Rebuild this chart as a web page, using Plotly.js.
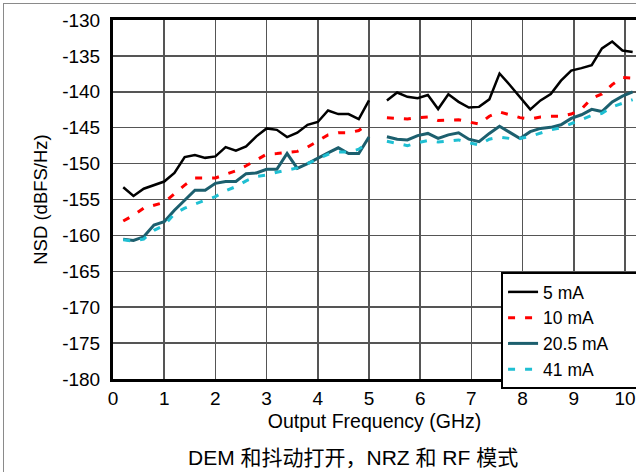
<!DOCTYPE html>
<html>
<head>
<meta charset="utf-8">
<script src="https://cdn.plot.ly/plotly-3.0.1.min.js"></script>
<style>
  html, body { margin: 0; padding: 0; background: #fff; }
  #wrap { position: relative; width: 636px; height: 472px; overflow: hidden; }
  #chart { width: 636px; height: 472px; }
  #frame { position: absolute; left: 3px; top: 3px; width: 700px; height: 500px;
           border-left: 1.5px solid #8a8a8a; border-top: 1.5px solid #8a8a8a; pointer-events: none; }
</style>
</head>
<body>
<div id="wrap"><div id="chart"></div><div id="frame"></div></div>
<script>
// Output frequency (GHz), two measurement bands
const freqLow = [0.2,0.4,0.6,0.8,1.0,1.2,1.4,1.6,1.8,2.0,2.2,2.4,2.6,2.8,3.0,3.2,3.4,3.6,3.8,4.0,4.2,4.4,4.6,4.8,5.0];
const freqHigh = [5.35,5.55,5.75,5.95,6.15,6.35,6.55,6.75,6.95,7.15,7.35,7.55,7.75,7.95,8.15,8.35,8.55,8.75,8.95,9.15,9.35,9.55,9.75,9.95,10.15];

// NSD (dBFS/Hz)
const nsd5Low = [-153.3,-154.5,-153.5,-153.0,-152.5,-151.3,-149.1,-148.8,-149.2,-149.0,-147.7,-148.2,-147.6,-146.2,-145.1,-145.3,-146.3,-145.7,-144.6,-144.2,-142.6,-143.1,-143.1,-143.8,-141.2];
const nsd5High = [-141.2,-140.1,-140.7,-140.9,-140.45,-142.4,-140.35,-141.4,-142.2,-142.1,-141.05,-137.45,-139.05,-140.7,-142.45,-141.2,-140.3,-138.45,-137.05,-136.7,-136.3,-133.95,-133.0,-134.25,-134.45];

const nsd10Low = [-158.0,-157.2,-156.2,-155.8,-155.4,-154.2,-153.0,-152.0,-152.0,-152.0,-151.5,-151.0,-150.3,-149.5,-148.7,-148.6,-148.4,-148.3,-147.7,-146.9,-146.0,-145.7,-145.7,-145.4,-144.4];
const nsd10High = [-143.6,-143.7,-143.8,-143.6,-143.5,-144.0,-143.9,-143.9,-144.2,-144.5,-143.4,-142.8,-143.2,-143.6,-143.8,-143.5,-143.4,-143.4,-143.1,-142.4,-140.9,-140.3,-139.0,-138.0,-138.1];

const nsd205Low = [-160.55,-160.7,-160.2,-158.55,-158.1,-156.5,-155.1,-153.7,-153.7,-152.75,-152.5,-152.5,-151.4,-151.3,-150.8,-150.8,-148.6,-150.65,-150.0,-149.2,-148.5,-147.8,-148.6,-148.6,-146.3];
const nsd205High = [-146.25,-146.6,-146.7,-146.1,-145.8,-146.5,-146.0,-145.7,-146.6,-146.95,-145.8,-144.8,-145.65,-146.5,-145.55,-145.1,-144.95,-144.6,-143.7,-143.2,-142.45,-142.75,-141.4,-140.6,-140.0];

const nsd41Low = [-160.6,-160.8,-160.5,-159.3,-158.6,-157.0,-156.2,-155.6,-155.1,-154.6,-153.8,-153.2,-152.4,-151.8,-151.6,-151.2,-150.9,-150.6,-150.0,-149.4,-148.7,-148.4,-148.4,-148.0,-147.0];
const nsd41High = [-146.9,-147.2,-147.5,-147.1,-146.8,-147.0,-146.9,-146.7,-147.1,-147.4,-146.6,-146.3,-146.5,-146.5,-146.2,-145.7,-145.3,-145.0,-144.4,-143.8,-143.3,-143.0,-142.1,-141.6,-141.1];

const seriesNames = ['5 mA','10 mA','20.5 mA','41 mA'];
const xTicks = [0,1,2,3,4,5,6,7,8,9,10];
const yTicks = [-180,-175,-170,-165,-160,-155,-150,-145,-140,-135,-130];
const yTickText = ['-180','-175','-170','-165','-160','-155','-150','-145','-140','-135','-130'];
const captionText = 'DEM 和抖动打开，NRZ 和 RF 模式';

const xAll = freqLow.concat([null], freqHigh);
function join(a, b) { return a.concat([null], b); }

const styles = [
  {color: '#000000', width: 2.5, dash: 'solid'},
  {color: '#ff0000', width: 3, dash: '7px,10px'},
  {color: '#1c5f6e', width: 3, dash: 'solid'},
  {color: '#1fbfd2', width: 3, dash: '7px,10px'}
];
const ys = [join(nsd5Low, nsd5High), join(nsd10Low, nsd10High), join(nsd205Low, nsd205High), join(nsd41Low, nsd41High)];

// pad the widest legend label so the legend box runs off the right edge as in the source
const pad = '\u00a0\u00a0\u00a0\u00a0\u00a0';
const traces = ys.map((y, i) => ({
  type: 'scatter', mode: 'lines', x: xAll, y: y, name: seriesNames[i] + (i === 2 ? pad : ''),
  connectgaps: false, line: styles[i]
}));

const fontFam = '"Liberation Sans", Arial, "Noto Sans CJK SC", sans-serif';
const layout = {
  width: 636, height: 472,
  margin: {l: 113, r: 0, t: 20, b: 93, autoexpand: false},
  paper_bgcolor: '#ffffff', plot_bgcolor: '#ffffff',
  font: {family: fontFam, size: 18, color: '#000'},
  showlegend: true,
  legend: {
    x: 0.742, y: 0.298, xanchor: 'left', yanchor: 'top',
    bgcolor: '#ffffff', bordercolor: '#000', borderwidth: 2,
    font: {family: fontFam, size: 17.5, color: '#000'}
  },
  xaxis: {
    range: [0, 10.215], tickvals: xTicks, ticktext: xTicks.map(String),
    showgrid: true, gridcolor: '#555', gridwidth: 1.5,
    showline: true, linecolor: '#000', linewidth: 3, mirror: true,
    ticks: '', zeroline: false,
    tickfont: {family: fontFam, size: 19},
    title: {text: 'Output Frequency (GHz)', font: {family: fontFam, size: 19.5}, standoff: 7}
  },
  yaxis: {
    range: [-180, -130], tickvals: yTicks, ticktext: yTickText,
    showgrid: true, gridcolor: '#555', gridwidth: 1.5,
    showline: true, linecolor: '#000', linewidth: 3, mirror: false,
    ticks: '', zeroline: false, ticklabelstandoff: 6,
    tickfont: {family: fontFam, size: 19},
    title: {text: 'NSD (dBFS/Hz)', font: {family: fontFam, size: 18.5}, standoff: 10}
  },
  annotations: [{
    text: captionText, xref: 'paper', yref: 'paper',
    x: 0.459, y: -0.22, xanchor: 'center', yanchor: 'middle',
    showarrow: false, font: {family: fontFam, size: 21, color: '#000'}
  }]
};

Plotly.newPlot('chart', traces, layout, {displayModeBar: false, staticPlot: true});
</script>
</body>
</html>
